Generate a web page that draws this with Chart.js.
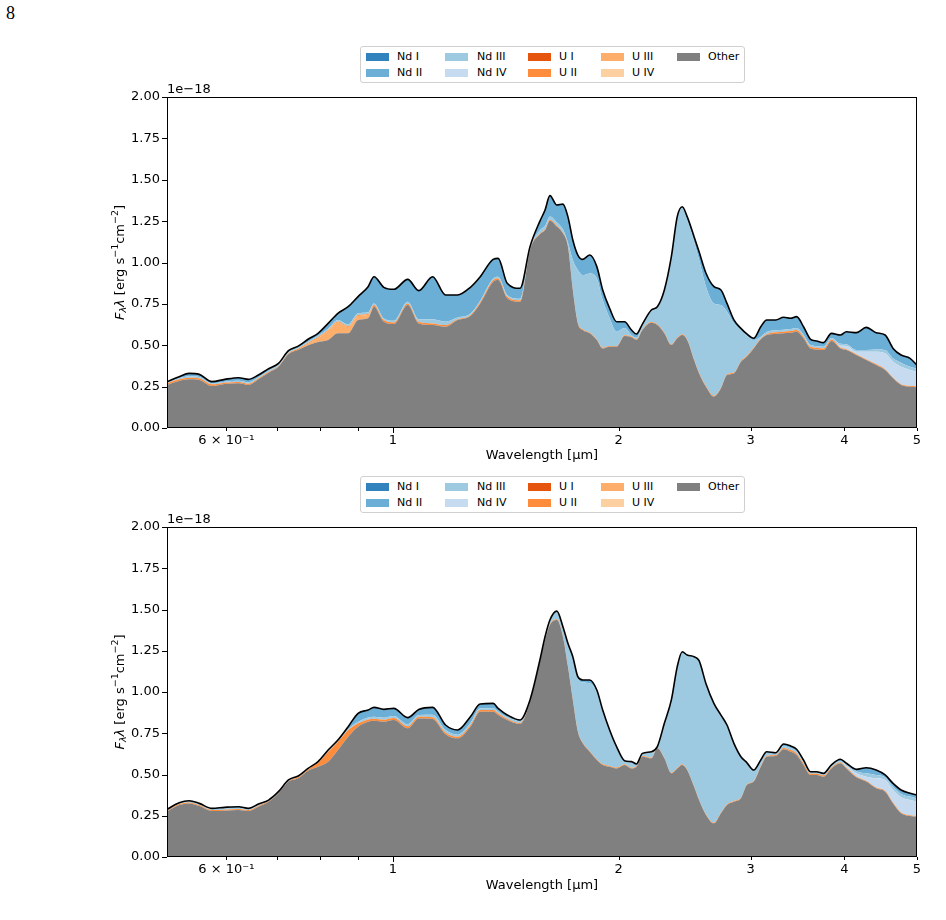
<!DOCTYPE html>
<html>
<head>
<meta charset="utf-8">
<script src="https://cdn.jsdelivr.net/npm/chart.js@4.4.1/dist/chart.umd.min.js"></script>
<style>
body { margin: 0; background: #fff; width: 946px; height: 920px; position: relative; overflow: hidden; font-family: "DejaVu Sans", sans-serif; }
.panel { position: absolute; left: 0; width: 946px; height: 470px; }
.legend { position: absolute; left: 360px; width: 383px; height: 35px; border: 1px solid #d0d0d0; border-radius: 3px; background: #fff; }
.item { position: absolute; font-size: 11px; line-height: 13px; color: #000; white-space: nowrap; }
.sw { position: absolute; width: 23px; height: 8px; }
#pageNo { position: absolute; left: 6px; top: 3px; font-family: "Liberation Serif", serif; font-size: 18px; }
</style>
</head>
<body>
<div id="pageNo">8</div>
<canvas id="topChart" class="panel" style="top:0px" width="946" height="470"></canvas>
<canvas id="botChart" class="panel" style="top:430px" width="946" height="470"></canvas>
<div id="topLegend" class="legend" style="top:46px"></div>
<div id="botLegend" class="legend" style="top:476px"></div>
<script>
// wavelength grid in micron
const wavelength = [0.5,0.519,0.535,0.552,0.574,0.597,0.623,0.642,0.662,0.683,
  0.704,0.726,0.748,0.771,0.795,0.820,0.845,0.872,0.899,0.927,
  0.944,0.973,1.003,1.047,1.083,1.130,1.176,1.220,1.269,1.308,
  1.361,1.382,1.421,1.478,1.524,1.571,1.596,1.620,1.655,1.686,
  1.712,1.738,1.765,1.792,1.831,1.871,1.905,1.946,1.988,2.037,
  2.081,2.113,2.152,2.212,2.253,2.302,2.352,2.395,2.432,2.469,
  2.522,2.561,2.616,2.681,2.739,2.790,2.850,2.912,2.965,3.029,
  3.095,3.152,3.240,3.320,3.392,3.455,3.529,3.606,3.673,3.752,
  3.845,3.952,4.026,4.150,4.279,4.411,4.534,4.646,4.761,4.894,5.0];

// top panel contributions (units of 1e-18)
const topOther = [0.260,0.284,0.294,0.290,0.254,0.266,0.270,0.260,0.294,0.334,
  0.370,0.447,0.471,0.500,0.520,0.532,0.572,0.572,0.652,0.663,
  0.733,0.642,0.628,0.743,0.632,0.622,0.612,0.652,0.677,0.753,
  0.884,0.894,0.784,0.763,1.076,1.170,1.196,1.253,1.217,1.176,
  1.096,0.834,0.632,0.592,0.572,0.532,0.481,0.491,0.491,0.556,
  0.548,0.532,0.592,0.636,0.622,0.572,0.501,0.542,0.562,0.532,
  0.411,0.330,0.250,0.190,0.240,0.320,0.330,0.400,0.431,0.481,
  0.536,0.562,0.568,0.572,0.576,0.582,0.542,0.481,0.475,0.471,
  0.526,0.481,0.471,0.441,0.411,0.381,0.350,0.300,0.260,0.250,0.246];
const topU3 = [0,0,0,0,0,0,0,0,0,0,
  0,0,0,0.009,0.024,0.054,0.065,0.038,0.025,0.020,
  0,0,0,0,0,0,0,0,0,0,
  0,0,0,0,0,0,0,0,0,0,
  0,0,0,0,0,0,0,0,0,0,
  0,0,0,0,0,0,0,0,0,0,
  0,0,0,0,0,0,0,0,0,0,
  0,0,0,0,0,0,0,0,0,0,
  0,0,0,0,0,0,0,0,0,0,0];
const topU2 = [0.010,0.010,0.010,0.010,0.010,0.008,0.008,0.008,0.006,0.006,
  0.005,0.005,0.008,0.006,0.006,0.006,0.006,0.006,0.006,0.006,
  0.010,0.010,0.010,0.010,0.010,0.010,0.010,0.005,0.005,0.008,
  0.010,0.010,0.010,0.008,0.005,0.005,0.005,0.005,0.005,0.005,
  0.005,0.005,0.005,0.005,0.005,0.005,0.005,0.005,0.005,0.005,
  0.005,0.005,0.005,0.005,0.005,0.005,0.005,0.005,0.005,0.005,
  0.005,0.005,0.005,0.005,0.005,0.005,0.005,0.005,0.005,0.005,
  0.005,0.005,0.010,0.010,0.010,0.010,0.010,0.010,0.010,0.010,
  0.008,0.006,0.005,0.005,0.005,0.005,0.005,0.005,0.005,0.005,0.005];
const topNd4 = [0,0,0,0,0,0,0,0,0,0,
  0,0,0,0,0,0,0,0,0,0,
  0,0,0,0,0,0,0,0,0,0,
  0,0,0,0,0,0,0,0,0,0,
  0,0,0,0,0,0,0,0,0,0,
  0,0,0,0,0,0,0,0,0,0,
  0,0,0,0,0,0,0,0,0,0,
  0,0,0,0,0,0,0,0,0,0,
  0,0.010,0.020,0.015,0.045,0.075,0.096,0.095,0.105,0.095,0.089];
const topNd3 = [0.005,0.006,0.008,0.008,0.006,0.006,0.008,0.008,0.006,0.006,
  0.005,0.005,0.006,0.006,0.008,0.008,0.010,0.010,0.010,0.010,
  0.010,0.010,0.010,0.010,0.015,0.025,0.020,0.010,0.008,0.008,
  0.010,0.010,0.010,0.010,0.005,0.020,0.020,0.020,0.020,0.020,
  0.020,0.176,0.318,0.327,0.357,0.367,0.287,0.167,0.086,0.043,
  0.009,0.008,0.020,0.065,0.100,0.250,0.520,0.720,0.760,0.725,
  0.710,0.680,0.599,0.558,0.498,0.378,0.298,0.187,0.122,0.046,
  0.011,0.013,0.012,0.012,0.012,0.012,0.012,0.010,0.010,0.010,
  0.010,0.012,0.010,0.010,0.010,0.014,0.020,0.020,0.025,0.020,0.020];
const topNd2 = [0.005,0.010,0.018,0.016,0.010,0.014,0.018,0.018,0.014,0.012,
  0.010,0.010,0.010,0.015,0.014,0.032,0.040,0.107,0.101,0.155,
  0.161,0.188,0.190,0.135,0.173,0.257,0.162,0.137,0.160,0.145,
  0.115,0.111,0.070,0.063,0.010,0.055,0.096,0.126,0.105,0.152,
  0.156,0.121,0.090,0.095,0.111,0.071,0.061,0.060,0.060,0.038,
  0.030,0.023,0.011,0.007,0.006,0.007,0.009,0.010,0.010,0.015,
  0.030,0.050,0.081,0.101,0.091,0.050,0.020,0.010,0.010,0.010,
  0.060,0.073,0.063,0.075,0.065,0.069,0.048,0.035,0.031,0.025,
  0.028,0.053,0.076,0.105,0.137,0.101,0.091,0.061,0.046,0.051,0.020];

// bottom panel contributions (units of 1e-18)
const botOther = [0.275,0.315,0.325,0.309,0.279,0.281,0.285,0.279,0.305,0.335,
  0.386,0.457,0.477,0.523,0.547,0.578,0.648,0.729,0.790,0.820,
  0.826,0.820,0.830,0.780,0.840,0.837,0.744,0.719,0.790,0.881,
  0.881,0.861,0.830,0.806,0.941,1.184,1.315,1.406,1.436,1.335,
  1.154,0.952,0.760,0.689,0.638,0.588,0.558,0.547,0.537,0.558,
  0.537,0.547,0.608,0.598,0.659,0.598,0.507,0.537,0.558,0.527,
  0.426,0.345,0.255,0.204,0.265,0.315,0.335,0.356,0.436,0.457,
  0.547,0.608,0.612,0.653,0.638,0.618,0.558,0.497,0.497,0.487,
  0.537,0.568,0.537,0.483,0.457,0.416,0.396,0.325,0.265,0.248,0.244];
const botU2 = [0.006,0.006,0.006,0.006,0.006,0.006,0.006,0.006,0.006,0.004,
  0.004,0.004,0.008,0.008,0.025,0.060,0.050,0.040,0.020,0.014,
  0.012,0.012,0.012,0.012,0.010,0.010,0.010,0.010,0.010,0.010,
  0.010,0.010,0.008,0.006,0.004,0.004,0.005,0.005,0.005,0.005,
  0.005,0.005,0.005,0.005,0.005,0.005,0.005,0.005,0.005,0.004,
  0.004,0.004,0.004,0.004,0.003,0.004,0.004,0.004,0.004,0.004,
  0.004,0.004,0.004,0.004,0.004,0.004,0.004,0.004,0.004,0.004,
  0.004,0.005,0.006,0.008,0.010,0.010,0.010,0.008,0.008,0.008,
  0.006,0.006,0.005,0.005,0.005,0.005,0.005,0.005,0.005,0.005,0.005];
const botNd4 = [0,0,0,0,0,0,0,0,0,0,
  0,0,0,0,0,0,0,0,0,0,
  0,0,0,0,0,0,0,0,0,0,
  0,0,0,0,0,0,0,0,0,0,
  0,0,0,0,0,0,0,0,0,0,
  0,0,0,0,0,0,0,0,0,0,
  0,0,0,0,0,0,0,0,0,0,
  0,0,0,0,0,0,0,0,0,0,
  0,0,0.010,0.020,0.025,0.056,0.066,0.076,0.092,0.092,0.086];
const botNd3 = [0.004,0.004,0.005,0.005,0.005,0.008,0.008,0.005,0.005,0.003,
  0.003,0.003,0.003,0.003,0.003,0.005,0.005,0.006,0.010,0.012,
  0.012,0.012,0.012,0.012,0.010,0.015,0.015,0.012,0.012,0.010,
  0.010,0.010,0.010,0.012,0.004,0.003,0.010,0.020,0.044,0.051,
  0.131,0.252,0.318,0.364,0.410,0.409,0.323,0.213,0.122,0.018,
  0.033,0.009,0.012,0.032,0.004,0.204,0.437,0.609,0.678,0.689,
  0.779,0.836,0.786,0.717,0.586,0.476,0.346,0.244,0.128,0.062,
  0.033,0.020,0.008,0.012,0.012,0.012,0.010,0.006,0.006,0.006,
  0.008,0.008,0.008,0.012,0.020,0.020,0.016,0.020,0.020,0.021,0.020];
const botNd2 = [0.004,0.004,0.005,0.005,0.005,0.006,0.006,0.005,0.005,0.003,
  0.003,0.003,0.003,0.003,0.003,0.005,0.006,0.015,0.051,0.045,
  0.057,0.051,0.047,0.041,0.034,0.045,0.031,0.029,0.038,0.026,
  0.030,0.020,0.013,0.006,0.003,0.003,0.005,0.005,0.005,0.005,
  0.005,0.005,0.010,0.015,0.020,0.010,0.005,0.005,0.005,0.004,
  0.004,0.004,0.004,0.004,0.003,0.004,0.004,0.004,0.004,0.004,
  0.005,0.005,0.005,0.005,0.005,0.005,0.004,0.004,0.004,0.004,
  0.004,0.005,0.006,0.012,0.013,0.013,0.010,0.006,0.006,0.006,
  0.007,0.010,0.008,0.011,0.034,0.030,0.014,0.020,0.024,0.020,0.021];

const legendLabels = ['Nd I', 'Nd II', 'Nd III', 'Nd IV', 'U I', 'U II', 'U III', 'U IV', 'Other'];
const legendColors = ['#3182bd', '#6baed6', '#9ecae1', '#c6dbef', '#e6550d', '#fd8d3c', '#fdae6b', '#fdd0a2', '#808080'];

const xTickValues = [0.6, 0.7, 0.8, 0.9, 1, 2, 3, 4, 5];
const xTickLabels = ['6 \u00d7 10\u207b\u00b9', '', '', '', '1', '2', '3', '4', '5'];
const yTickValues = [0, 0.25, 0.5, 0.75, 1, 1.25, 1.5, 1.75, 2];

const FONT = '"DejaVu Sans", sans-serif';

function colorOf(label) {
  return legendColors[legendLabels.indexOf(label)];
}

function buildLegend(id) {
  const box = document.getElementById(id);
  const swLeft = [5, 84, 167, 240, 316];
  const txLeft = [36, 116, 198, 271, 347];
  legendLabels.forEach((lab, i) => {
    const col = Math.floor(i / 2), row = i % 2;
    const sw = document.createElement('div');
    sw.className = 'sw';
    sw.style.left = swLeft[col] + 'px';
    sw.style.top = (6 + row * 16) + 'px';
    sw.style.background = legendColors[i];
    box.appendChild(sw);
    const tx = document.createElement('div');
    tx.className = 'item';
    tx.style.left = txLeft[col] + 'px';
    tx.style.top = (3 + row * 16) + 'px';
    tx.textContent = lab;
    box.appendChild(tx);
  });
}

function drawYTitle(ctx, cx, cy) {
  const big = 13, small = 9.5;
  const parts = [
    { t: 'F', f: 'italic ' + big + 'px ' + FONT, dy: 0 },
    { t: '\u03bb', f: 'italic ' + small + 'px ' + FONT, dy: 3 },
    { t: '\u03bb', f: 'italic ' + big + 'px ' + FONT, dy: 0 },
    { t: ' [erg s', f: big + 'px ' + FONT, dy: 0 },
    { t: '\u22121', f: small + 'px ' + FONT, dy: -5 },
    { t: 'cm', f: big + 'px ' + FONT, dy: 0 },
    { t: '\u22122', f: small + 'px ' + FONT, dy: -5 },
    { t: ']', f: big + 'px ' + FONT, dy: 0 }
  ];
  ctx.save();
  let total = 0;
  parts.forEach(p => { ctx.font = p.f; p.w = ctx.measureText(p.t).width; total += p.w; });
  ctx.translate(cx, cy);
  ctx.rotate(-Math.PI / 2);
  ctx.fillStyle = '#000';
  ctx.textBaseline = 'middle';
  ctx.textAlign = 'left';
  let x = -total / 2;
  parts.forEach(p => { ctx.font = p.f; ctx.fillText(p.t, x, p.dy); x += p.w; });
  ctx.restore();
}

const framePlugin = {
  id: 'frame',
  afterDraw(chart) {
    const ctx = chart.ctx;
    const a = chart.chartArea;
    const xs = chart.scales.x, ys = chart.scales.y;
    ctx.save();
    ctx.strokeStyle = '#000';
    ctx.lineWidth = 1;
    ctx.strokeRect(a.left + 0.5, a.top + 0.5, a.right - a.left - 1, a.bottom - a.top - 1);
    ctx.beginPath();
    xTickValues.forEach(v => {
      const px = Math.round(xs.getPixelForValue(v)) + 0.5;
      const len = v === 1 ? 5 : 3;
      ctx.moveTo(px, a.bottom);
      ctx.lineTo(px, a.bottom + len);
    });
    yTickValues.forEach(v => {
      const py = Math.round(ys.getPixelForValue(v)) + 0.5;
      ctx.moveTo(a.left, py);
      ctx.lineTo(a.left - 5, py);
    });
    ctx.stroke();
    ctx.fillStyle = '#000';
    ctx.font = '13px ' + FONT;
    ctx.textAlign = 'left';
    ctx.textBaseline = 'bottom';
    ctx.fillText('1e\u221218', a.left, a.top - 1);
    ctx.restore();
    drawYTitle(ctx, 121, (a.top + a.bottom) / 2);
  }
};

function makePanel(canvasId, layers, xAxisHeight) {
  const datasets = layers.map((layer, i) => {
    const last = i === layers.length - 1;
    return {
      label: layer.label,
      data: wavelength.map((w, j) => ({ x: w, y: layer.data[j] })),
      backgroundColor: colorOf(layer.label),
      borderColor: last ? '#000' : colorOf(layer.label),
      borderWidth: last ? 1.6 : 0,
      pointRadius: 0,
      fill: i === 0 ? 'origin' : '-1',
      cubicInterpolationMode: 'monotone'
    };
  });
  return new Chart(document.getElementById(canvasId), {
    type: 'line',
    data: { datasets: datasets },
    options: {
      responsive: false,
      animation: false,
      devicePixelRatio: 1,
      layout: { padding: { top: 97, right: 29, left: 0, bottom: 0 } },
      plugins: {
        legend: { display: false },
        tooltip: { enabled: false },
        filler: { drawTime: 'beforeDatasetsDraw' }
      },
      scales: {
        x: {
          type: 'logarithmic',
          min: 0.5,
          max: 5,
          afterBuildTicks: s => { s.ticks = xTickValues.map(v => ({ value: v })); },
          afterFit: s => { s.height = xAxisHeight; },
          grid: { drawOnChartArea: false, drawTicks: false },
          border: { display: false },
          ticks: {
            autoSkip: false,
            maxRotation: 0,
            padding: 5,
            color: '#000',
            font: { family: FONT, size: 13 },
            callback: v => { const k = xTickValues.indexOf(v); return k >= 0 ? xTickLabels[k] : ''; }
          },
          title: {
            display: true,
            text: 'Wavelength [\u03bcm]',
            color: '#000',
            font: { family: FONT, size: 13 },
            padding: { top: 0, bottom: 7 }
          }
        },
        y: {
          stacked: true,
          min: 0,
          max: 2,
          afterFit: s => { s.width = 167; },
          grid: { drawOnChartArea: false, drawTicks: false },
          border: { display: false },
          ticks: {
            stepSize: 0.25,
            padding: 7,
            color: '#000',
            font: { family: FONT, size: 13 },
            callback: v => v.toFixed(2)
          }
        }
      }
    },
    plugins: [framePlugin]
  });
}

buildLegend('topLegend');
buildLegend('botLegend');

makePanel('topChart', [
  { label: 'Other', data: topOther },
  { label: 'U III', data: topU3 },
  { label: 'U II', data: topU2 },
  { label: 'Nd IV', data: topNd4 },
  { label: 'Nd III', data: topNd3 },
  { label: 'Nd II', data: topNd2 }
], 42);

makePanel('botChart', [
  { label: 'Other', data: botOther },
  { label: 'U II', data: botU2 },
  { label: 'Nd IV', data: botNd4 },
  { label: 'Nd III', data: botNd3 },
  { label: 'Nd II', data: botNd2 }
], 43);
</script>
</body>
</html>
